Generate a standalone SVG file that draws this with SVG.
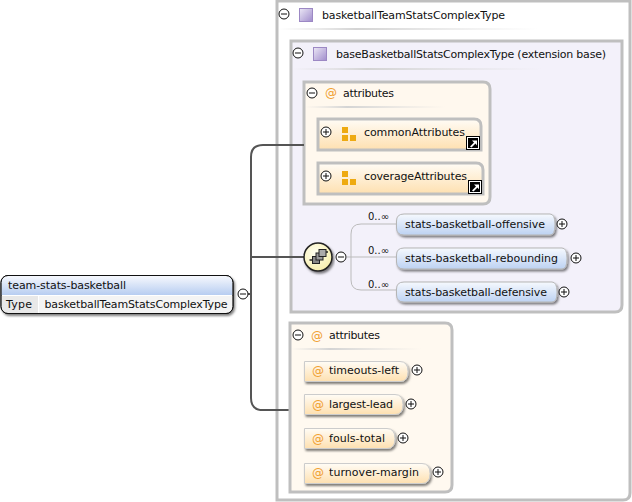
<svg xmlns="http://www.w3.org/2000/svg" width="632" height="502" viewBox="0 0 632 502">
<style>
text{font-family:"DejaVu Sans","Liberation Sans",sans-serif;font-size:11px;fill:#111}
.box{stroke:#bfbfbf;stroke-width:3}
.tog{fill:#fff;stroke:#111;stroke-width:1}
.tl{stroke:#111;stroke-width:1}
.conn{fill:none;stroke:#555;stroke-width:2}
.thin{fill:none;stroke:#bbb;stroke-width:1}
.el{fill:url(#blue);stroke:#b5b5b5;stroke-width:1;filter:url(#sh)}
.at{fill:url(#or);stroke:#ccc;stroke-width:1;filter:url(#sh)}
.at2{fill:#f0a030;font-size:12px}
.sep{fill:url(#sep)}
.oc{fill:#eeaa11}
.ic{fill:url(#pu);stroke:#9c88c4}
.occ{font-size:10px}
</style>
<defs>
<linearGradient id="blue" x1="0" y1="0" x2="0" y2="1"><stop offset="0" stop-color="#f6f9fe"/><stop offset="1" stop-color="#bdd2f2"/></linearGradient>
<linearGradient id="or" x1="0" y1="0" x2="0" y2="1"><stop offset="0" stop-color="#fffcf6"/><stop offset="1" stop-color="#fee0b0"/></linearGradient>
<linearGradient id="hd" x1="0" y1="0" x2="0" y2="1"><stop offset="0" stop-color="#f6f8fd"/><stop offset="1" stop-color="#b7cdf1"/></linearGradient>
<linearGradient id="pu" x1="0" y1="0" x2="1" y2="1"><stop offset="0" stop-color="#ece8f6"/><stop offset="1" stop-color="#a08ccc"/></linearGradient>
<linearGradient id="sep" x1="0" y1="0" x2="1" y2="0"><stop offset="0" stop-color="#ddd" stop-opacity="0"/><stop offset=".3" stop-color="#d4d4d4"/><stop offset="1" stop-color="#ddd" stop-opacity="0"/></linearGradient>
<radialGradient id="yl" cx=".4" cy=".35" r=".7"><stop offset="0" stop-color="#fffff0"/><stop offset="1" stop-color="#f7eeaa"/></radialGradient>
<filter id="sh" x="-10%" y="-20%" width="120%" height="150%"><feDropShadow dx="1.500" dy="2" stdDeviation="1" flood-color="#000" flood-opacity=".5"/></filter>
<g id="plus"><circle class="tog" r="5"/><path class="tl" d="M-3 0H3M0-3V3"/></g>
<g id="minus"><circle class="tog" r="5"/><path class="tl" d="M-3 0H3"/></g>
<g id="link"><rect x="-6.500" y="-6.500" width="13" height="13" fill="#fff" stroke="#000"/><rect x="-5" y="-5" width="10" height="10" fill="#000"/><path d="M-3 3.500L1 -.5L-1-2.500H4V2.500L2.500 .5L-1.500 4.500Z" fill="#fff"/></g>
<g id="ag"><rect class="oc" x="0" y="0" width="6" height="6"/><rect class="oc" x="0" y="8" width="6" height="6"/><rect class="oc" x="8" y="8" width="6" height="6"/></g>
</defs>

<g id="type-box">
<path class="box" fill="#fff" d="M277 1H630V493Q630 500 623 500H277Z"/>
<use href="#minus" x="284" y="14"/>
<rect class="ic" x="299.500" y="8.500" width="13" height="13"/>
<text x="322" y="18.500" textLength="183">basketballTeamStatsComplexType</text>
<rect class="sep" x="278" y="28" width="260" height="2"/>
</g>

<g id="base-box">
<path class="box" fill="#f3f1fa" d="M291 41H622V305Q622 312 615 312H291Z"/>
<use href="#minus" x="298" y="53"/>
<rect class="ic" x="313.500" y="47.500" width="13" height="13"/>
<text x="336" y="58" textLength="270">baseBasketballStatsComplexType (extension base)</text>
<rect class="sep" x="292" y="68" width="250" height="2"/>
</g>

<g id="attributes-1">
<path class="box" fill="#fff8ee" d="M304 82H483Q490 82 490 89V197Q490 204 483 204H304Z"/>
<use href="#minus" x="312" y="93"/>
<text class="at2" x="325" y="97">@</text>
<text x="343" y="97" textLength="51">attributes</text>
<rect class="sep" x="305" y="106" width="140" height="2"/>
</g>

<g id="commonAttributes">
<path class="box" fill="url(#or)" d="M318 119H474Q481 119 481 126V150H318Z"/>
<use href="#plus" x="326" y="132"/>
<use href="#ag" x="342" y="127"/>
<text x="364" y="136" textLength="101">commonAttributes</text>
<use href="#link" x="473" y="143"/>
</g>

<g id="coverageAttributes">
<path class="box" fill="url(#or)" d="M318 163H476Q483 163 483 170V194H318Z"/>
<use href="#plus" x="326" y="176"/>
<use href="#ag" x="342" y="171"/>
<text x="364" y="180" textLength="103">coverageAttributes</text>
<use href="#link" x="475" y="187"/>
</g>

<g id="connectors">
<path class="conn" d="M304 145H263Q251 145 251 157V398Q251 410 263 410H290"/>
<path class="conn" d="M247 294H251M251 257H304"/>
<path class="thin" d="M347 257H396M396 224H361Q351 224 351 234V280Q351 290 361 290H396"/>
</g>

<g id="team-stats-basketball">
<rect x="1" y="275.500" width="232" height="38" rx="7" fill="#fff" stroke="#111" filter="url(#sh)"/>
<path d="M1.500 295V282.500Q1.500 276 8 276H226Q232.500 276 232.500 282.500V295Z" fill="url(#hd)"/>
<path d="M1.500 296H38V313H8Q1.500 313 1.500 306.500Z" fill="#e8e8e8"/>
<path d="M39 296H232.500V306.500Q232.500 313 226 313H39Z" fill="#f4f4f4"/>
<rect x="1" y="275.500" width="232" height="38" rx="7" fill="none" stroke="#111"/>
<text x="8" y="289" textLength="118">team-stats-basketball</text>
<text x="6" y="308" textLength="26">Type</text>
<text x="44.500" y="308" textLength="183">basketballTeamStatsComplexType</text>
</g>
<use id="team-toggle" href="#minus" x="243" y="294"/>

<g id="sequence">
<circle cx="318" cy="257" r="14" fill="url(#yl)" stroke="#222" stroke-width="1.500" filter="url(#sh)"/>
<path d="M309.500 260H312M325 252H328" stroke="#222" fill="none" stroke-width="1.500"/>
<rect x="312.500" y="256.500" width="7" height="7" fill="#888" stroke="#222"/>
<rect x="316" y="253" width="7" height="7" fill="#999" stroke="#222"/>
<rect x="319" y="249.500" width="7" height="7" fill="#aaa" stroke="#222"/>
<use href="#minus" x="341" y="257"/>
</g>

<g id="stats-basketball-offensive">
<text class="occ" x="368" y="220" textLength="21">0..∞</text>
<path class="el" d="M404 214H550Q555 214 555 224V225Q555 235 550 235H404Q396.500 235 396.500 228V221Q396.500 214 404 214Z"/>
<text x="405" y="228" textLength="140">stats-basketball-offensive</text>
<use href="#plus" x="562" y="224"/>
</g>
<g id="stats-basketball-rebounding">
<text class="occ" x="368" y="254" textLength="21">0..∞</text>
<path class="el" d="M404 248H562Q567 248 567 258V259Q567 269 562 269H404Q396.500 269 396.500 262V255Q396.500 248 404 248Z"/>
<text x="405" y="262" textLength="153">stats-basketball-rebounding</text>
<use href="#plus" x="576" y="258"/>
</g>
<g id="stats-basketball-defensive">
<text class="occ" x="368" y="288" textLength="21">0..∞</text>
<path class="el" d="M404 282H552Q557 282 557 292V293Q557 302 552 302H404Q396.500 302 396.500 295V289Q396.500 282 404 282Z"/>
<text x="405" y="296" textLength="142">stats-basketball-defensive</text>
<use href="#plus" x="564" y="292"/>
</g>

<g id="attributes-2">
<path class="box" fill="#fff9f0" d="M290 323H445Q452 323 452 330V485Q452 492 445 492H290Z"/>
<use href="#minus" x="298" y="335"/>
<text class="at2" x="311" y="340">@</text>
<text x="329" y="339" textLength="51">attributes</text>
<rect class="sep" x="291" y="348" width="130" height="2"/>
</g>

<g id="timeouts-left">
<path class="at" d="M304.500 361.500H400Q408 361.500 408 371.500V372Q408 381.500 400 381.500H304.500Z"/>
<text class="at2" x="312" y="375">@</text>
<text x="329" y="374" textLength="70">timeouts-left</text>
<use href="#plus" x="417" y="370"/>
</g>
<g id="largest-lead">
<path class="at" d="M304.500 394.500H395Q403 394.500 403 404.500V405Q403 414.500 395 414.500H304.500Z"/>
<text class="at2" x="312" y="409">@</text>
<text x="329" y="408" textLength="64">largest-lead</text>
<use href="#plus" x="411" y="404"/>
</g>
<g id="fouls-total">
<path class="at" d="M304.500 428.500H387Q395 428.500 395 438.500V439Q395 448.500 387 448.500H304.500Z"/>
<text class="at2" x="312" y="443">@</text>
<text x="329" y="442" textLength="56">fouls-total</text>
<use href="#plus" x="403" y="438"/>
</g>
<g id="turnover-margin">
<path class="at" d="M304.500 463.500H422Q430 463.500 430 473.500V474Q430 483.500 422 483.500H304.500Z"/>
<text class="at2" x="312" y="477">@</text>
<text x="329" y="476" textLength="90">turnover-margin</text>
<use href="#plus" x="438" y="472"/>
</g>
</svg>
